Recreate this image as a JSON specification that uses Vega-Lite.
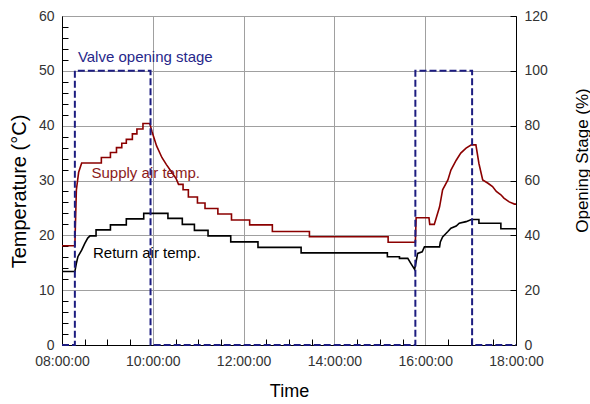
{
  "$schema": "https://vega.github.io/schema/vega-lite/v6.json",
  "width": 454,
  "height": 329,
  "autosize": {"type": "none"},
  "padding": {"left": 62, "top": 16, "right": 74, "bottom": 59},
  "background": "white",
  "config": {
    "view": {"stroke": "#000", "strokeWidth": 1},
    "font": "Liberation Sans",
    "axis": {
      "labelFont": "Liberation Sans",
      "titleFont": "Liberation Sans",
      "labelFontSize": 14,
      "labelColor": "#333",
      "titleFontSize": 18,
      "titleFontWeight": "normal",
      "titleColor": "#000",
      "domainColor": "#000",
      "gridWidth": 1,
      "labelFlush": false,
      "labelOverlap": false
    }
  },
  "layer": [
    {
      "data": {
        "format": {"parse": {"t": "utc:'%H:%M'"}},
        "values": [
          {"t": "08:00", "temp": 18.1}, {"t": "08:17", "temp": 18.1}, {"t": "08:19", "temp": 28.3},
          {"t": "08:22", "temp": 31.5}, {"t": "08:26", "temp": 33.2}, {"t": "08:52", "temp": 33.2},
          {"t": "08:52", "temp": 34.2}, {"t": "09:04", "temp": 34.2}, {"t": "09:04", "temp": 35.1},
          {"t": "09:12", "temp": 35.1}, {"t": "09:12", "temp": 36.0}, {"t": "09:19", "temp": 36.0},
          {"t": "09:19", "temp": 36.8}, {"t": "09:25", "temp": 36.8}, {"t": "09:25", "temp": 37.5},
          {"t": "09:33", "temp": 37.5}, {"t": "09:33", "temp": 38.5}, {"t": "09:39", "temp": 38.5},
          {"t": "09:39", "temp": 39.4}, {"t": "09:47", "temp": 39.4}, {"t": "09:47", "temp": 40.4},
          {"t": "09:56", "temp": 40.4}, {"t": "09:59", "temp": 38.9}, {"t": "10:05", "temp": 36.3},
          {"t": "10:12", "temp": 34.2}, {"t": "10:18", "temp": 32.9}, {"t": "10:25", "temp": 31.5},
          {"t": "10:31", "temp": 30.3}, {"t": "10:34", "temp": 29.3}, {"t": "10:40", "temp": 29.3},
          {"t": "10:40", "temp": 28.3}, {"t": "10:47", "temp": 28.3}, {"t": "10:47", "temp": 27.0},
          {"t": "10:59", "temp": 27.0}, {"t": "10:59", "temp": 25.9}, {"t": "11:09", "temp": 25.9},
          {"t": "11:09", "temp": 24.9}, {"t": "11:26", "temp": 24.9}, {"t": "11:26", "temp": 23.9},
          {"t": "11:44", "temp": 23.9}, {"t": "11:44", "temp": 22.8}, {"t": "12:08", "temp": 22.8},
          {"t": "12:08", "temp": 21.9}, {"t": "12:38", "temp": 21.9}, {"t": "12:38", "temp": 20.7},
          {"t": "13:27", "temp": 20.7}, {"t": "13:27", "temp": 19.75}, {"t": "15:11", "temp": 19.75},
          {"t": "15:11", "temp": 18.75}, {"t": "15:47", "temp": 18.75}, {"t": "15:48", "temp": 23.2},
          {"t": "16:05", "temp": 23.2}, {"t": "16:06", "temp": 22.0}, {"t": "16:12", "temp": 22.0},
          {"t": "16:19", "temp": 25.2}, {"t": "16:23", "temp": 28.3}, {"t": "16:30", "temp": 30.1},
          {"t": "16:34", "temp": 31.9}, {"t": "16:41", "temp": 33.7}, {"t": "16:47", "temp": 35.0},
          {"t": "16:54", "temp": 35.9}, {"t": "17:01", "temp": 36.5}, {"t": "17:07", "temp": 36.5},
          {"t": "17:11", "temp": 33.1}, {"t": "17:16", "temp": 30.1}, {"t": "17:23", "temp": 29.5},
          {"t": "17:29", "temp": 28.9}, {"t": "17:34", "temp": 28.0}, {"t": "17:40", "temp": 27.4},
          {"t": "17:44", "temp": 26.8}, {"t": "17:51", "temp": 26.1}, {"t": "17:58", "temp": 25.7},
          {"t": "18:00", "temp": 25.7}
        ]
      },
      "mark": {"type": "line", "color": "#8b0000", "strokeWidth": 1.6},
      "encoding": {
        "x": {
          "field": "t", "type": "temporal",
          "scale": {"type": "utc", "nice": false, "domain": [
            {"year": 1900, "month": 1, "date": 1, "hours": 8, "utc": true},
            {"year": 1900, "month": 1, "date": 1, "hours": 18, "utc": true}]},
          "axis": {
            "orient": "bottom", "title": "Time", "format": "%H:%M:%S",
            "values": [
              {"year": 1900, "month": 1, "date": 1, "hours": 8, "utc": true},
              {"year": 1900, "month": 1, "date": 1, "hours": 8, "minutes": 30, "utc": true},
              {"year": 1900, "month": 1, "date": 1, "hours": 9, "utc": true},
              {"year": 1900, "month": 1, "date": 1, "hours": 9, "minutes": 30, "utc": true},
              {"year": 1900, "month": 1, "date": 1, "hours": 10, "utc": true},
              {"year": 1900, "month": 1, "date": 1, "hours": 10, "minutes": 30, "utc": true},
              {"year": 1900, "month": 1, "date": 1, "hours": 11, "utc": true},
              {"year": 1900, "month": 1, "date": 1, "hours": 11, "minutes": 30, "utc": true},
              {"year": 1900, "month": 1, "date": 1, "hours": 12, "utc": true},
              {"year": 1900, "month": 1, "date": 1, "hours": 12, "minutes": 30, "utc": true},
              {"year": 1900, "month": 1, "date": 1, "hours": 13, "utc": true},
              {"year": 1900, "month": 1, "date": 1, "hours": 13, "minutes": 30, "utc": true},
              {"year": 1900, "month": 1, "date": 1, "hours": 14, "utc": true},
              {"year": 1900, "month": 1, "date": 1, "hours": 14, "minutes": 30, "utc": true},
              {"year": 1900, "month": 1, "date": 1, "hours": 15, "utc": true},
              {"year": 1900, "month": 1, "date": 1, "hours": 15, "minutes": 30, "utc": true},
              {"year": 1900, "month": 1, "date": 1, "hours": 16, "utc": true},
              {"year": 1900, "month": 1, "date": 1, "hours": 16, "minutes": 30, "utc": true},
              {"year": 1900, "month": 1, "date": 1, "hours": 17, "utc": true},
              {"year": 1900, "month": 1, "date": 1, "hours": 17, "minutes": 30, "utc": true},
              {"year": 1900, "month": 1, "date": 1, "hours": 18, "utc": true}],
            "labelExpr": "utcminutes(datum.value) == 0 && utchours(datum.value) % 2 == 0 ? datum.label : ''",
            "grid": true,
            "gridColor": {"condition": {"test": "utcminutes(datum.value) == 0 && utchours(datum.value) % 2 == 0", "value": "#a0a0a0"}, "value": "#000000"},
            "gridDash": {"condition": {"test": "utcminutes(datum.value) == 0 && utchours(datum.value) % 2 == 0", "value": []}, "value": [6, 400]},
            "gridDashOffset": {"condition": {"test": "utcminutes(datum.value) == 0 && utchours(datum.value) % 2 == 0", "value": 0}, "value": 83},
            "ticks": false, "labelPadding": 9,
            "titleBaseline": "middle", "titleY": 46
          }
        },
        "y": {
          "field": "temp", "type": "quantitative",
          "scale": {"domain": [0, 60], "nice": false},
          "axis": {
            "orient": "left", "title": "Temperature (°C)",
            "values": [0, 2, 4, 6, 8, 10, 12, 14, 16, 18, 20, 22, 24, 26, 28, 30, 32, 34, 36, 38, 40, 42, 44, 46, 48, 50, 52, 54, 56, 58, 60],
            "labelExpr": "datum.value % 10 == 0 ? datum.label : ''",
            "grid": true,
            "gridColor": {"condition": {"test": "datum.value % 10 == 0", "value": "#a0a0a0"}, "value": "#000000"},
            "gridDash": {"condition": {"test": "datum.value % 10 == 0", "value": []}, "value": [6, 1000]},
            "ticks": false, "labelPadding": 8,
            "titleFontSize": 20,
            "titleBaseline": "middle", "titleX": -43, "titleY": 175
          }
        }
      }
    },
    {
      "data": {
        "format": {"parse": {"t": "utc:'%H:%M'"}},
        "values": [
          {"t": "08:00", "temp": 13.4}, {"t": "08:17", "temp": 13.4}, {"t": "08:19", "temp": 14.9},
          {"t": "08:21", "temp": 16.1}, {"t": "08:26", "temp": 17.3}, {"t": "08:30", "temp": 18.5},
          {"t": "08:34", "temp": 19.5}, {"t": "08:37", "temp": 19.9}, {"t": "08:45", "temp": 19.9},
          {"t": "08:45", "temp": 21.0}, {"t": "09:04", "temp": 21.0}, {"t": "09:04", "temp": 21.9},
          {"t": "09:25", "temp": 21.9}, {"t": "09:25", "temp": 23.0}, {"t": "09:48", "temp": 23.0},
          {"t": "09:48", "temp": 24.0}, {"t": "10:20", "temp": 24.0}, {"t": "10:20", "temp": 23.1},
          {"t": "10:39", "temp": 23.1}, {"t": "10:39", "temp": 22.0}, {"t": "10:55", "temp": 22.0},
          {"t": "10:55", "temp": 20.9}, {"t": "11:13", "temp": 20.9}, {"t": "11:13", "temp": 19.9},
          {"t": "11:43", "temp": 19.9}, {"t": "11:43", "temp": 18.8}, {"t": "12:19", "temp": 18.8},
          {"t": "12:19", "temp": 17.8}, {"t": "13:16", "temp": 17.8}, {"t": "13:16", "temp": 16.8},
          {"t": "15:10", "temp": 16.8}, {"t": "15:10", "temp": 16.1}, {"t": "15:26", "temp": 16.1},
          {"t": "15:26", "temp": 15.8}, {"t": "15:37", "temp": 15.8}, {"t": "15:41", "temp": 14.9},
          {"t": "15:46", "temp": 13.8}, {"t": "15:48", "temp": 15.2}, {"t": "15:50", "temp": 16.7},
          {"t": "15:56", "temp": 17.0}, {"t": "15:59", "temp": 17.9}, {"t": "16:19", "temp": 17.9},
          {"t": "16:20", "temp": 18.8}, {"t": "16:23", "temp": 19.7}, {"t": "16:30", "temp": 20.7},
          {"t": "16:34", "temp": 21.3}, {"t": "16:41", "temp": 21.7}, {"t": "16:45", "temp": 22.2},
          {"t": "16:54", "temp": 22.5}, {"t": "17:01", "temp": 22.9}, {"t": "17:11", "temp": 22.9},
          {"t": "17:11", "temp": 22.2}, {"t": "17:40", "temp": 22.2}, {"t": "17:40", "temp": 21.2},
          {"t": "18:00", "temp": 21.2}
        ]
      },
      "mark": {"type": "line", "color": "#000000", "strokeWidth": 1.6},
      "encoding": {
        "x": {
          "field": "t", "type": "temporal", "axis": null,
          "scale": {"type": "utc", "nice": false, "domain": [
            {"year": 1900, "month": 1, "date": 1, "hours": 8, "utc": true},
            {"year": 1900, "month": 1, "date": 1, "hours": 18, "utc": true}]}
        },
        "y": {
          "field": "temp", "type": "quantitative", "axis": null,
          "scale": {"domain": [0, 60], "nice": false}
        }
      }
    },
    {
      "data": {
        "format": {"parse": {"t": "utc:'%H:%M'"}},
        "values": [
          {"t": "08:21", "v": 52.5, "label": "Valve opening stage", "series": "valve"},
          {"t": "08:39", "v": 31.3, "label": "Supply air temp.", "series": "supply"},
          {"t": "08:41", "v": 16.7, "label": "Return air temp.", "series": "return"}
        ]
      },
      "mark": {"type": "text", "align": "left", "baseline": "middle", "fontSize": 15, "font": "Liberation Sans"},
      "encoding": {
        "x": {
          "field": "t", "type": "temporal", "axis": null,
          "scale": {"type": "utc", "nice": false, "domain": [
            {"year": 1900, "month": 1, "date": 1, "hours": 8, "utc": true},
            {"year": 1900, "month": 1, "date": 1, "hours": 18, "utc": true}]}
        },
        "y": {
          "field": "v", "type": "quantitative", "axis": null,
          "scale": {"domain": [0, 60], "nice": false}
        },
        "text": {"field": "label"},
        "color": {
          "field": "series", "type": "nominal", "legend": null,
          "scale": {"domain": ["valve", "supply", "return"], "range": ["#27278a", "#8b1a1a", "#000000"]}
        }
      }
    },
    {
      "data": {
        "format": {"parse": {"t": "utc:'%H:%M'"}},
        "values": [
          {"t": "08:00", "stage": 0}, {"t": "08:17", "stage": 100}, {"t": "09:57", "stage": 0},
          {"t": "15:47", "stage": 100}, {"t": "17:02", "stage": 0}, {"t": "18:00", "stage": 0}
        ]
      },
      "mark": {"type": "line", "interpolate": "step-after", "color": "#1c1c80", "strokeWidth": 2, "strokeDash": [7, 3]},
      "encoding": {
        "x": {
          "field": "t", "type": "temporal", "axis": null,
          "scale": {"type": "utc", "nice": false, "domain": [
            {"year": 1900, "month": 1, "date": 1, "hours": 8, "utc": true},
            {"year": 1900, "month": 1, "date": 1, "hours": 18, "utc": true}]}
        },
        "y": {
          "field": "stage", "type": "quantitative",
          "scale": {"domain": [0, 120], "nice": false},
          "axis": {
            "orient": "right", "title": "Opening Stage (%)",
            "values": [0, 20, 40, 60, 80, 100, 120],
            "grid": true, "gridColor": "#000000", "gridDash": [6, 1000],
            "ticks": false, "labelPadding": 8,
            "titleFontSize": 17,
            "titleAngle": 270, "titleBaseline": "middle", "titleX": 66, "titleY": 144
          }
        }
      }
    }
  ],
  "resolve": {"scale": {"y": "independent"}, "axis": {"x": "independent", "y": "independent"}}
}
